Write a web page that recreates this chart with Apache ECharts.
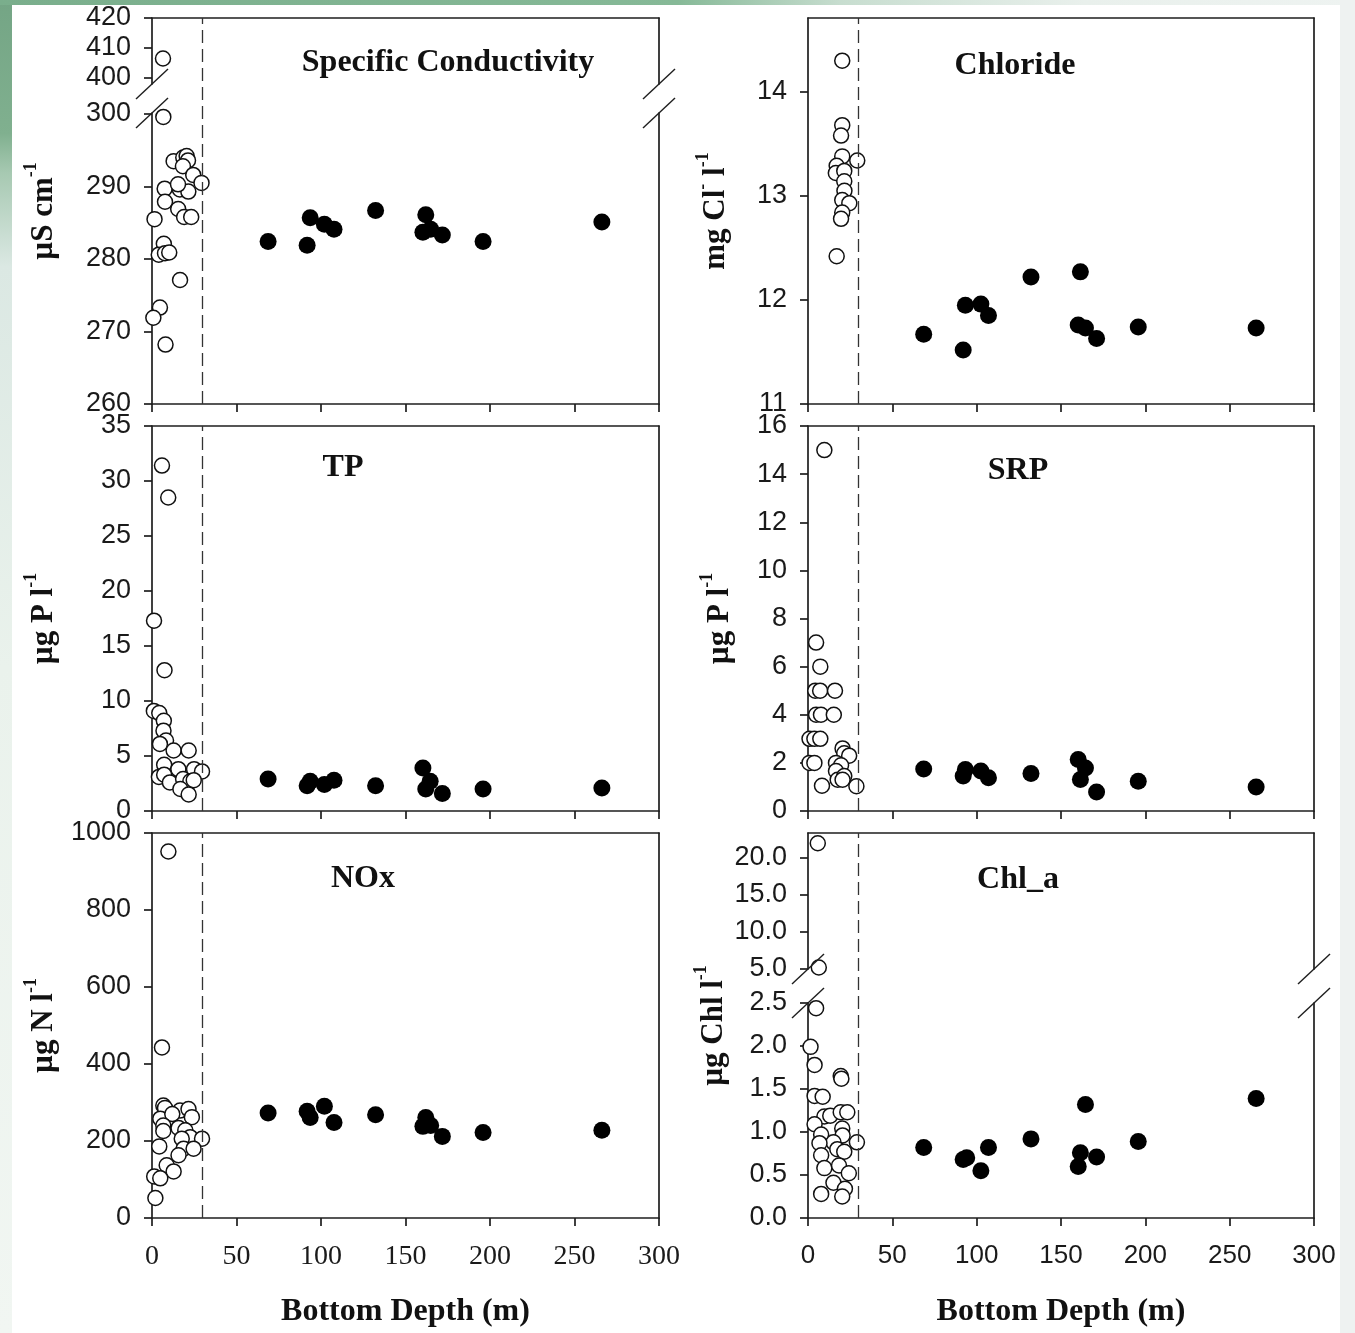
<!DOCTYPE html>
<html><head><meta charset="utf-8">
<script src="https://cdn.jsdelivr.net/npm/echarts@6/dist/echarts.min.js"></script>
<style>html,body{margin:0;padding:0;background:#fff}#c{width:1355px;height:1333px}</style>
</head><body><div id="c"></div>
<script>
// ---------------- DATA ----------------
const xTicks = [0, 50, 100, 150, 200, 250, 300];
const thresholdDepth = 30;

const condShallow = [[6.5,406.5],[6.7,299.6],[12.8,293.5],[18.5,294.0],[20.5,294.2],[21.3,293.6],[18.3,292.8],[24.4,291.6],[29.3,290.5],[7.5,289.7],[16.5,289.6],[21.5,289.3],[15.4,290.3],[7.7,287.9],[15.5,286.9],[19.0,285.8],[23.2,285.8],[1.5,285.5],[7.0,282.1],[4.0,280.6],[7.7,280.8],[10.2,280.9],[16.6,277.1],[4.7,273.3],[0.8,271.9],[8.0,268.2]];
const condDeep = [[68.7,282.4],[91.8,281.9],[93.6,285.7],[102,284.8],[107.7,284.1],[132.3,286.7],[162,286.1],[160.3,283.7],[164.9,284.1],[171.8,283.3],[195.9,282.4],[266.2,285.1]];
const condTicksUpper = [400, 410, 420];
const condTicksLower = [260, 270, 280, 290, 300];

const chlorideShallow = [[20.3,14.3],[20.3,13.68],[19.6,13.58],[20.3,13.38],[29.2,13.34],[17,13.29],[16.5,13.22],[21.5,13.24],[21.5,13.14],[21.6,13.05],[20.3,12.96],[24.5,12.93],[20.3,12.84],[19.6,12.78],[17,12.42]];
const chlorideDeep = [[68.6,11.67],[92,11.52],[93.3,11.95],[102.5,11.96],[107,11.85],[132.2,12.22],[161.5,12.27],[160.2,11.76],[164.5,11.73],[171.1,11.63],[195.8,11.74],[265.7,11.73]];
const chlorideTicks = [11, 12, 13, 14];

const tpShallow = [[5.9,31.4],[9.6,28.5],[1.2,17.3],[7.4,12.8],[1.1,9.1],[4.3,8.9],[7.0,8.2],[6.8,7.3],[8.3,6.4],[4.7,6.1],[12.8,5.5],[21.7,5.5],[7.2,4.2],[15.6,3.8],[24.9,3.8],[29.6,3.6],[4.1,3.1],[7.2,3.3],[10.6,2.6],[18.4,2.9],[22.7,2.7],[24.7,2.8],[16.8,2.0],[21.7,1.5]];
const tpDeep = [[68.7,2.9],[91.8,2.3],[93.6,2.7],[102,2.4],[107.7,2.8],[132.3,2.3],[160.3,3.9],[164.6,2.7],[162,2.0],[171.8,1.6],[195.9,2.0],[266.2,2.1]];
const tpTicks = [0, 5, 10, 15, 20, 25, 30, 35];

const srpShallow = [[9.7,15.0],[4.8,7.0],[7.3,6.0],[4.3,5.0],[7.2,5.0],[16,5.0],[4.8,4.0],[7.7,4.0],[15.3,4.0],[0.9,3.0],[3.8,3.0],[7.3,3.0],[0.9,2.0],[3.8,2.0],[20.5,2.6],[21.5,2.4],[24.4,2.3],[16.6,2.0],[19.6,1.9],[16.6,1.66],[17.6,1.3],[21.5,1.45],[20.5,1.3],[8.3,1.05],[28.7,1.03]];
const srpDeep = [[68.6,1.75],[92,1.45],[93.3,1.72],[102.5,1.66],[107,1.38],[132.2,1.56],[160.2,2.14],[164.5,1.79],[161.5,1.31],[171.1,0.79],[195.8,1.24],[265.7,1.0]];
const srpTicks = [0, 2, 4, 6, 8, 10, 12, 14, 16];

const noxShallow = [[9.7,952],[5.9,443],[6.7,292],[7.7,286],[16.6,279],[21.6,283],[4.9,258],[12,270],[6.7,240],[23.6,262],[15.7,234],[19.7,228],[6.7,226],[22.6,210],[17.6,206],[29.6,206],[4.3,186],[18.7,180],[24.6,180],[15.7,163],[8.7,137],[12.8,121],[1.3,108],[4.9,103],[2,52]];
const noxDeep = [[68.7,273],[91.8,277],[93.6,261],[102,290],[107.7,248],[132.3,268],[162,261],[160.3,238],[164.9,240],[171.8,212],[195.9,222],[266.2,228]];
const noxTicks = [0, 200, 400, 600, 800, 1000];

const chlaShallow = [[5.8,22.0],[6.4,5.2],[4.8,2.44],[1.5,1.99],[3.9,1.78],[19.4,1.65],[19.8,1.62],[3.9,1.42],[8.7,1.41],[9.7,1.18],[13.2,1.19],[19.4,1.23],[23.3,1.23],[3.9,1.09],[20.3,1.04],[20.5,0.96],[7.8,0.97],[15.1,0.88],[29,0.88],[6.8,0.87],[17.4,0.80],[21.5,0.77],[7.8,0.73],[9.7,0.58],[18.4,0.61],[24.2,0.52],[15.1,0.41],[21.9,0.34],[7.8,0.28],[20.3,0.25]];
const chlaDeep = [[68.6,0.82],[92,0.68],[94.1,0.70],[102.5,0.55],[107,0.82],[132.2,0.92],[161.5,0.76],[160.2,0.60],[164.5,1.32],[171.1,0.71],[195.8,0.89],[265.7,1.39]];
const chlaTicksUpper = [5, 10, 15, 20];
const chlaTicksLower = [0, 0.5, 1, 1.5, 2, 2.5];

// ---------------- STYLE / LAYOUT ----------------
const SANS = "'Liberation Sans', Arial, sans-serif";
const SERIF = "'Liberation Serif', 'Times New Roman', serif";
const AXC = '#1e1e1e';
const axLine = {color: AXC, width: 1.7};

const grids = [], xAxes = [], yAxes = [], series = [], graphic = [];

function nameStyle() {
  return {
    fontFamily: SERIF, fontWeight: 'bold', fontSize: 31, color: '#111',
    rich: {
      m: {fontFamily: SERIF, fontWeight: 'bold', fontSize: 31, color: '#111', lineHeight: 44},
      s: {fontFamily: SERIF, fontWeight: 'bold', fontSize: 18, color: '#111', lineHeight: 20, verticalAlign: 'top'}
    }
  };
}
function thresholdMark() {
  return {silent: true, symbol: ['none', 'none'], label: {show: false}, animation: false,
    lineStyle: {type: [13, 6], color: '#333', width: 1.3, opacity: 1}, emphasis: {disabled: true},
    data: [{xAxis: thresholdDepth}]};
}
function leftY(g, seg, p, named) {
  const o = {gridIndex: g, type: 'value', min: seg.min, max: seg.max, position: 'left',
    axisLine: {show: true, onZero: false, lineStyle: axLine},
    axisTick: {show: true, length: 8, lineStyle: axLine, customValues: seg.ticks},
    axisLabel: {show: true, customValues: seg.ticks, margin: 21, fontFamily: SANS, fontSize: 27, color: '#1a1a1a',
      formatter: seg.fmt || (v => String(v))},
    splitLine: {show: false}};
  if (named) Object.assign(o, {name: p.yName, nameLocation: 'middle', nameRotate: 90, nameGap: p.nameGap, nameTextStyle: nameStyle()});
  return o;
}
function rightY(g, seg) {
  return {gridIndex: g, type: 'value', min: seg.min, max: seg.max, position: 'right',
    axisLine: {show: true, onZero: false, lineStyle: axLine}, axisTick: {show: false},
    axisLabel: {show: false}, splitLine: {show: false}};
}
function addScatter(xi, yi, shallow, deep, withMark) {
  const s1 = {type: 'scatter', xAxisIndex: xi, yAxisIndex: yi, data: shallow, symbol: 'circle', symbolSize: 15,
    itemStyle: {color: '#fff', borderColor: '#111', borderWidth: 1.5, opacity: 1}, clip: false, silent: true, z: 3};
  if (withMark) s1.markLine = thresholdMark();
  series.push(s1);
  series.push({type: 'scatter', xAxisIndex: xi, yAxisIndex: yi, data: deep, symbol: 'circle', symbolSize: 17,
    itemStyle: {color: '#000', opacity: 1}, clip: false, silent: true, z: 3});
}
function slash(cx, cy) {
  graphic.push({type: 'line', silent: true, z: 50,
    shape: {x1: cx - 16, y1: cy + 15, x2: cx + 16, y2: cy - 15},
    style: {stroke: AXC, lineWidth: 1.4}});
}

function addPanel(p) {
  const gMain = grids.length;
  grids.push({left: p.left, top: p.top, width: p.width, height: p.height, outerBoundsMode: 'none'});
  const xMain = xAxes.length;
  xAxes.push({gridIndex: gMain, type: 'value', min: 0, max: 300, interval: 50, position: 'bottom',
    axisLine: {show: true, onZero: false, lineStyle: axLine},
    axisTick: {show: true, inside: false, length: 8, lineStyle: axLine},
    axisLabel: {show: !!p.xFont, margin: 25, fontFamily: p.xFont || SANS, fontSize: p.xSize || 26, color: '#1a1a1a'},
    splitLine: {show: false},
    name: p.xName || '', nameLocation: 'middle', nameGap: 78,
    nameTextStyle: {fontFamily: SERIF, fontWeight: 'bold', fontSize: 32, color: '#111'}});
  xAxes.push({gridIndex: gMain, type: 'value', min: 0, max: 300, position: 'top',
    axisLine: {show: true, onZero: false, lineStyle: axLine}, axisTick: {show: false},
    axisLabel: {show: false}, splitLine: {show: false}});
  const segs = p.segments;
  if (segs.length > 1) {
    const yMain = yAxes.length;
    yAxes.push({gridIndex: gMain, type: 'value', min: 0, max: 1, position: 'left',
      axisLine: {show: false}, axisTick: {show: false}, axisLabel: {show: false}, splitLine: {show: false},
      name: p.yName, nameLocation: 'middle', nameRotate: 90, nameGap: p.nameGap, nameTextStyle: nameStyle()});
    series.push({type: 'scatter', xAxisIndex: xMain, yAxisIndex: yMain, data: [], silent: true, markLine: thresholdMark()});
    segs.forEach(seg => {
      const g = grids.length;
      grids.push({left: p.left, top: seg.top, width: p.width, height: seg.height, outerBoundsMode: 'none'});
      const xi = xAxes.length;
      xAxes.push({gridIndex: g, type: 'value', min: 0, max: 300, show: false});
      const yi = yAxes.length;
      yAxes.push(leftY(g, seg, p, false));
      yAxes.push(rightY(g, seg));
      const inSeg = d => d[1] >= seg.min && d[1] <= seg.max;
      addScatter(xi, yi, p.shallow.filter(inSeg), p.deep.filter(inSeg), false);
    });
    const upper = segs[0], lower = segs[1];
    [p.left, p.left + p.width].forEach(x => {
      slash(x, upper.top + upper.height);
      slash(x, lower.top);
    });
  } else {
    const yi = yAxes.length;
    yAxes.push(leftY(gMain, segs[0], p, true));
    yAxes.push(rightY(gMain, segs[0]));
    addScatter(xMain, yi, p.shallow, p.deep, true);
  }
  graphic.push({type: 'text', x: p.titleX, y: p.titleY, silent: true, z: 60,
    style: {text: p.title, fontFamily: SERIF, fontWeight: 'bold', fontSize: 32, fill: '#111',
      align: 'center', verticalAlign: 'middle', textAlign: 'center', textVerticalAlign: 'middle'}});
}

const L = 152, LW = 507, R = 808, RW = 506;
const fmt1 = v => v.toFixed(1);

addPanel({left: L, top: 18, width: LW, height: 386, title: 'Specific Conductivity', titleX: 448, titleY: 63,
  yName: '{m|µS cm}{s|-1}', nameGap: 86, shallow: condShallow, deep: condDeep,
  segments: [{min: 398, max: 420, top: 18, height: 66, ticks: condTicksUpper},
             {min: 260, max: 300.14, top: 113, height: 291, ticks: condTicksLower}]});
addPanel({left: R, top: 18, width: RW, height: 386, title: 'Chloride', titleX: 1015, titleY: 66,
  yName: '{m|mg Cl}{s|-}{m| l}{s|-1}', nameGap: 70, shallow: chlorideShallow, deep: chlorideDeep,
  segments: [{min: 11, max: 14.71, ticks: chlorideTicks}]});
addPanel({left: L, top: 426, width: LW, height: 385, title: 'TP', titleX: 343, titleY: 468,
  yName: '{m|µg P l}{s|-1}', nameGap: 86, shallow: tpShallow, deep: tpDeep,
  segments: [{min: 0, max: 35, ticks: tpTicks}]});
addPanel({left: R, top: 426, width: RW, height: 385, title: 'SRP', titleX: 1018, titleY: 471,
  yName: '{m|µg P l}{s|-1}', nameGap: 66, shallow: srpShallow, deep: srpDeep,
  segments: [{min: 0, max: 16, ticks: srpTicks}]});
addPanel({left: L, top: 833, width: LW, height: 385, title: 'NOx', titleX: 363, titleY: 879,
  yName: '{m|µg N l}{s|-1}', nameGap: 86, shallow: noxShallow, deep: noxDeep,
  xFont: SERIF, xSize: 28, xName: 'Bottom Depth (m)',
  segments: [{min: 0, max: 1000, ticks: noxTicks}]});
addPanel({left: R, top: 833, width: RW, height: 385, title: 'Chl_a', titleX: 1018, titleY: 880,
  yName: '{m|µg Chl l}{s|-1}', nameGap: 72, shallow: chlaShallow, deep: chlaDeep,
  xFont: SANS, xSize: 26, xName: 'Bottom Depth (m)',
  segments: [{min: 5, max: 23.38, top: 833, height: 136, ticks: chlaTicksUpper, fmt: fmt1},
             {min: 0, max: 2.5, top: 1003, height: 215, ticks: chlaTicksLower, fmt: fmt1}]});

// slide background edges
graphic.unshift(
  {type: 'rect', silent: true, z: -10, shape: {x: 0, y: 0, width: 12, height: 1333},
   style: {fill: {type: 'linear', x: 0, y: 0, x2: 0, y2: 1, colorStops: [
     {offset: 0, color: '#74a585'}, {offset: 0.1, color: '#80b08f'}, {offset: 0.13, color: '#a7c9b2'},
     {offset: 0.2, color: '#dbe8e3'}, {offset: 0.5, color: '#eaf2ec'}, {offset: 1, color: '#f1f6f2'}]}}},
  {type: 'rect', silent: true, z: -10, shape: {x: 0, y: 0, width: 1355, height: 5},
   style: {fill: {type: 'linear', x: 0, y: 0, x2: 1, y2: 0, colorStops: [
     {offset: 0, color: '#7aae8c'}, {offset: 0.5, color: '#86b997'}, {offset: 0.62, color: '#c7ddcf'},
     {offset: 0.8, color: '#e9f0ec'}, {offset: 1, color: '#eef3f1'}]}}},
  {type: 'rect', silent: true, z: -10, shape: {x: 1340, y: 0, width: 15, height: 1333},
   style: {fill: '#eef2f1'}}
);

const chart = echarts.init(document.getElementById('c'), null, {renderer: 'canvas'});
chart.setOption({
  animation: false,
  backgroundColor: '#ffffff',
  grid: grids, xAxis: xAxes, yAxis: yAxes, series: series, graphic: graphic
});
</script></body></html>
